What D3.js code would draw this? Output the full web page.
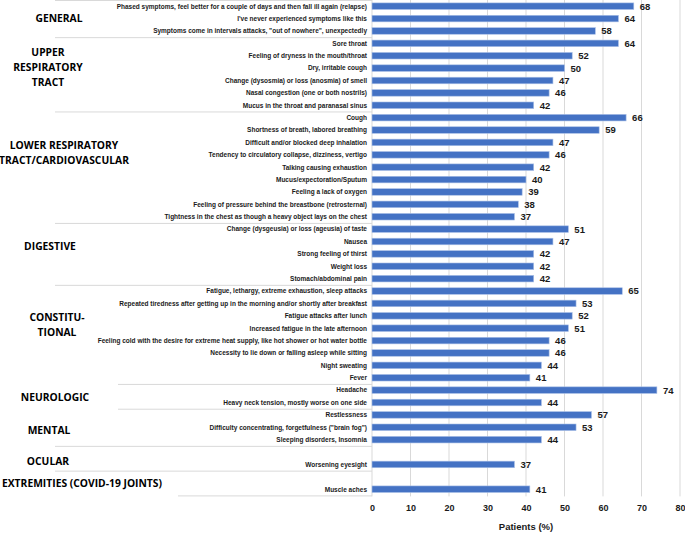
<!DOCTYPE html>
<html>
<head>
<meta charset="utf-8">
<script src="https://cdn.jsdelivr.net/npm/d3@7"></script>
<style>
  html, body { margin: 0; padding: 0; background: #fff; }
  svg { display: block; }
</style>
</head>
<body>
<svg id="chart" width="685" height="533"></svg>
<script>
// ---------- DATA ----------
const groups = [
  "GENERAL",
  "UPPER RESPIRATORY TRACT",
  "LOWER RESPIRATORY TRACT/CARDIOVASCULAR",
  "DIGESTIVE",
  "CONSTITU- TIONAL",
  "NEUROLOGIC",
  "MENTAL",
  "OCULAR",
  "EXTREMITIES (COVID-19 JOINTS)"
];
const groupLabelLines = [
  ["GENERAL"],
  ["UPPER", "RESPIRATORY", "TRACT"],
  ["LOWER RESPIRATORY", "TRACT/CARDIOVASCULAR"],
  ["DIGESTIVE"],
  ["CONSTITU-", "TIONAL"],
  ["NEUROLOGIC"],
  ["MENTAL"],
  ["OCULAR"],
  ["EXTREMITIES (COVID-19 JOINTS)"]
];
const categories = [
  "Phased symptoms, feel better for a couple of days and then fall ill again (relapse)",
  "I've never experienced symptoms like this",
  "Symptoms come in intervals attacks, \"out of nowhere\", unexpectedly",
  "Sore throat",
  "Feeling of dryness in the mouth/throat",
  "Dry, irritable cough",
  "Change (dysosmia) or loss (anosmia) of smell",
  "Nasal congestion (one or both nostrils)",
  "Mucus in the throat and paranasal sinus",
  "Cough",
  "Shortness of breath, labored breathing",
  "Difficult and/or blocked deep inhalation",
  "Tendency to circulatory collapse, dizziness, vertigo",
  "Talking causing exhaustion",
  "Mucus/expectoration/Sputum",
  "Feeling a lack of oxygen",
  "Feeling of pressure behind the breastbone (retrosternal)",
  "Tightness in the chest as though a heavy object lays on the chest",
  "Change (dysgeusia) or loss (ageusia) of taste",
  "Nausea",
  "Strong feeling of thirst",
  "Weight loss",
  "Stomach/abdominal pain",
  "Fatigue, lethargy, extreme exhaustion, sleep attacks",
  "Repeated tiredness after getting up in the morning and/or shortly after breakfast",
  "Fatigue attacks after lunch",
  "Increased fatigue in the late afternoon",
  "Feeling cold with the desire for extreme heat supply, like hot shower or hot water bottle",
  "Necessity to lie down or falling asleep while sitting",
  "Night sweating",
  "Fever",
  "Headache",
  "Heavy neck tension, mostly worse on one side",
  "Restlessness",
  "Difficulty concentrating, forgetfulness (\"brain fog\")",
  "Sleeping disorders, Insomnia",
  "",
  "Worsening eyesight",
  "",
  "Muscle aches"
];
const values = [
  68, 64, 58,
  64, 52, 50, 47, 46, 42,
  66, 59, 47, 46, 42, 40, 39, 38, 37,
  51, 47, 42, 42, 42,
  65, 53, 52, 51, 46, 46, 44, 41,
  74, 44,
  57, 53, 44,
  null, 37,
  null, 41
];
// number of rows in each group (in order)
const groupSizes = [3, 6, 9, 5, 8, 2, 3, 2, 2];
const xTicks = [0, 10, 20, 30, 40, 50, 60, 70, 80];
const xTitle = "Patients (%)";

// ---------- LAYOUT / STYLE ----------
const layout = {
  plotLeft: 372, plotRight: 680, plotTop: 0, plotBottom: 495.4,
  rowLabelRight: 367,
  // group label: centre x and vertical nudge (px) relative to group's middle
  groupLabelX: [59, 48, 64, 50, 57, 55, 49, 48, 82],
  groupLabelDy: [-0.5, -7, -14, -8, -9.5, 1, 3, 3, 0],
  groupLineGap: 15,
  // left start of the separator line at each group boundary (index 0 = top, last = bottom)
  sepStartX: [55, 55, 55, 55, 55, 118, 118, 55, 55, 178]
};
const barColor = "#4472C4";
const gridColor = "#d9d9d9";

const svg = d3.select("#chart");
const rows = categories.map((c, i) => ({ i, cat: c, v: values[i] }));

const x = d3.scaleLinear().domain([0, 80]).range([layout.plotLeft, layout.plotRight]);
const y = d3.scaleBand()
  .domain(d3.range(categories.length))
  .range([layout.plotTop, layout.plotBottom])
  .paddingInner(0.47)
  .paddingOuter(0.235);
const step = y.step();
const boundary = i => layout.plotTop + i * step;

// gridlines
svg.append("g")
  .selectAll("line")
  .data(xTicks.slice(1))
  .join("line")
  .attr("x1", d => x(d)).attr("x2", d => x(d))
  .attr("y1", layout.plotTop).attr("y2", layout.plotBottom + 1)
  .attr("stroke", gridColor).attr("stroke-width", 1);

// group separators
const bounds = [0];
groupSizes.forEach(s => bounds.push(bounds[bounds.length - 1] + s));
svg.append("g")
  .selectAll("line")
  .data(bounds)
  .join("line")
  .attr("x1", (d, k) => layout.sepStartX[k])
  .attr("x2", layout.plotLeft)
  .attr("y1", d => boundary(d) + 0.5)
  .attr("y2", d => boundary(d) + 0.5)
  .attr("stroke", gridColor).attr("stroke-width", 1);

// category axis line
svg.append("line")
  .attr("x1", layout.plotLeft).attr("x2", layout.plotLeft)
  .attr("y1", layout.plotTop).attr("y2", layout.plotBottom + 1)
  .attr("stroke", gridColor);

// bars
const barRows = rows.filter(r => r.v != null);
svg.append("g")
  .selectAll("rect")
  .data(barRows)
  .join("rect")
  .attr("x", x(0))
  .attr("y", d => y(d.i))
  .attr("width", d => x(d.v) - x(0))
  .attr("height", y.bandwidth())
  .attr("fill", barColor)
  .attr("stroke", "#a9bfe6")
  .attr("stroke-width", 0.6);

// value labels
svg.append("g")
  .selectAll("text")
  .data(barRows)
  .join("text")
  .attr("x", d => x(d.v) + 6)
  .attr("y", d => y(d.i) + y.bandwidth() / 2)
  .attr("dy", "0.36em")
  .attr("font-family", "Liberation Sans, Arial, sans-serif")
  .attr("font-weight", "bold")
  .attr("font-size", 9.5)
  .attr("fill", "#1a1a1a")
  .text(d => d.v);

// row labels
svg.append("g")
  .selectAll("text")
  .data(rows.filter(r => r.cat !== ""))
  .join("text")
  .attr("x", layout.rowLabelRight)
  .attr("y", d => y(d.i) + y.bandwidth() / 2)
  .attr("dy", "0.36em")
  .attr("text-anchor", "end")
  .attr("font-family", "Liberation Sans, Arial, sans-serif")
  .attr("font-weight", "bold")
  .attr("font-size", 6.5)
  .attr("fill", "#1a1a1a")
  .text(d => d.cat);

// group labels
const gl = svg.append("g")
  .attr("font-family", "Open Sans, sans-serif")
  .attr("font-weight", "bold")
  .attr("font-size", 10.3)
  .attr("fill", "#000")
  .attr("text-anchor", "middle");
groups.forEach((g, k) => {
  const mid = (boundary(bounds[k]) + boundary(bounds[k + 1])) / 2 + layout.groupLabelDy[k];
  const lines = groupLabelLines[k];
  const top = mid - (lines.length - 1) * layout.groupLineGap / 2;
  lines.forEach((ln, j) => {
    gl.append("text")
      .attr("x", layout.groupLabelX[k])
      .attr("y", top + j * layout.groupLineGap)
      .attr("dy", "0.36em")
      .text(ln);
  });
});

// x axis
const xAxis = d3.axisBottom(x).tickValues(xTicks).tickSize(0).tickPadding(9);
const ax = svg.append("g")
  .attr("transform", `translate(0,${layout.plotBottom})`)
  .call(xAxis);
ax.select(".domain").remove();
ax.selectAll("text")
  .attr("font-family", "Liberation Sans, Arial, sans-serif")
  .attr("font-weight", "bold")
  .attr("font-size", 9)
  .attr("fill", "#1a1a1a");

svg.append("text")
  .attr("x", (layout.plotLeft + layout.plotRight) / 2)
  .attr("y", 527)
  .attr("dy", "0.36em")
  .attr("text-anchor", "middle")
  .attr("font-family", "Liberation Sans, Arial, sans-serif")
  .attr("font-weight", "bold")
  .attr("font-size", 9.5)
  .attr("fill", "#1a1a1a")
  .text(xTitle);
</script>
</body>
</html>
